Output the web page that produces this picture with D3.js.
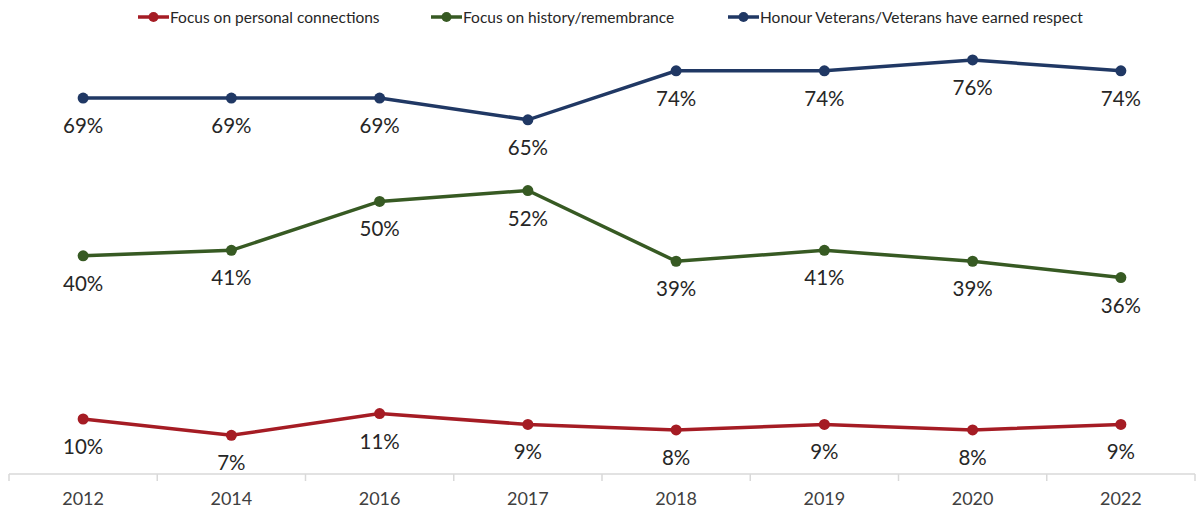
<!DOCTYPE html>
<html>
<head>
<meta charset="utf-8">
<script src="https://cdn.jsdelivr.net/npm/d3@7"></script>
<style>
  body { margin: 0; background: #fff; }
  text { font-family: Lato, "Open Sans", sans-serif; }
</style>
</head>
<body>
<div id="vis"></div>
<script>
// Data ----------------------------------------------------------------------

var years = ["2012", "2014", "2016", "2017", "2018", "2019", "2020", "2022"];

var personalVals = [10, 7, 11, 9, 8, 9, 8, 9];
var historyVals = [40, 41, 50, 52, 39, 41, 39, 36];
var honourVals = [69, 69, 69, 65, 74, 74, 76, 74];

var seriesNames = ["Focus on personal connections", "Focus on history/remembrance", "Honour Veterans/Veterans have earned respect"];
var seriesColors = ["#A51C24", "#375A23", "#203864"];

var series = [personalVals, historyVals, honourVals].map(function(vals, i) {
  return { name: seriesNames[i], color: seriesColors[i], values: vals };
});

// Setup ---------------------------------------------------------------------

var width = 1196, height = 514;

var svg = d3.select("#vis").append("svg")
  .attr("width", width)
  .attr("height", height);

var x = d3.scaleBand()
  .domain(years)
  .range([9, 1195]);

var y = d3.scaleLinear()
  .domain([0, 100])
  .range([473.4, -70.6]);

// Axis ----------------------------------------------------------------------

var axisY = 474;
var ax = svg.append("g");

ax.append("line")
  .attr("x1", x.range()[0]).attr("x2", x.range()[1])
  .attr("y1", axisY).attr("y2", axisY)
  .attr("stroke", "#d9d9d9").attr("stroke-width", 1.5);

ax.selectAll(".tick")
  .data(years.concat(["end"]))
  .enter().append("line")
  .attr("x1", function(d, i) { return x.range()[0] + i * x.step(); })
  .attr("x2", function(d, i) { return x.range()[0] + i * x.step(); })
  .attr("y1", axisY).attr("y2", axisY + 7)
  .attr("stroke", "#d9d9d9").attr("stroke-width", 1.5);

ax.selectAll(".year")
  .data(years)
  .enter().append("text")
  .attr("x", function(d) { return x(d) + x.bandwidth() / 2; })
  .attr("y", 505)
  .attr("text-anchor", "middle")
  .attr("font-size", "18px")
  .attr("fill", "#404040")
  .text(function(d) { return d; });

// Lines ---------------------------------------------------------------------

var line = d3.line()
  .x(function(d, i) { return x(years[i]) + x.bandwidth() / 2; })
  .y(function(d) { return y(d); });

var g = svg.selectAll(".series")
  .data(series)
  .enter().append("g")
  .attr("class", "series");

g.append("path")
  .attr("d", function(d) { return line(d.values); })
  .attr("fill", "none")
  .attr("stroke", function(d) { return d.color; })
  .attr("stroke-width", 3.5);

g.each(function(s) {
  var sel = d3.select(this);
  sel.selectAll("circle")
    .data(s.values)
    .enter().append("circle")
    .attr("cx", function(d, i) { return x(years[i]) + x.bandwidth() / 2; })
    .attr("cy", function(d) { return y(d); })
    .attr("r", 5.5)
    .attr("fill", s.color);

  sel.selectAll(".label")
    .data(s.values)
    .enter().append("text")
    .attr("x", function(d, i) { return x(years[i]) + x.bandwidth() / 2; })
    .attr("y", function(d) { return y(d) + 35; })
    .attr("text-anchor", "middle")
    .attr("font-size", "20.5px")
    .attr("fill", "#262626")
    .text(function(d) { return d + "%"; });
});

// Legend --------------------------------------------------------------------

var legendX = [138, 431, 728];

var lg = svg.selectAll(".legend")
  .data(series)
  .enter().append("g")
  .attr("transform", function(d, i) { return "translate(" + legendX[i] + ",17)"; });

lg.append("line")
  .attr("x1", 0).attr("x2", 31)
  .attr("stroke", function(d) { return d.color; })
  .attr("stroke-width", 3.5);

lg.append("circle")
  .attr("cx", 15.5).attr("r", 5)
  .attr("fill", function(d) { return d.color; });

lg.append("text")
  .attr("x", 32)
  .attr("y", 5.5)
  .attr("font-size", "15.5px")
  .attr("fill", "#262626")
  .text(function(d) { return d.name; });
</script>
</body>
</html>
